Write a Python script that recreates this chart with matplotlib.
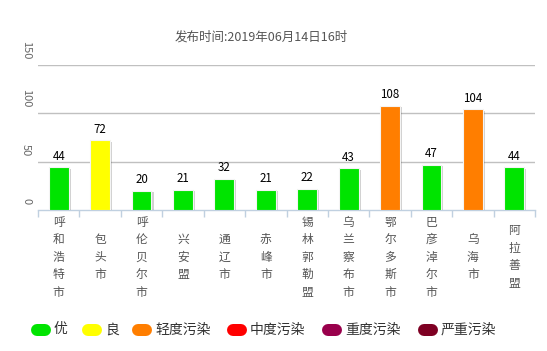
import matplotlib
matplotlib.use("Agg")
import matplotlib.pyplot as plt
import matplotlib.patheffects as pe
from matplotlib.lines import Line2D
import numpy as np

plt.rcParams['font.family'] = ['Noto Sans CJK SC', 'DejaVu Sans']

title = "发布时间:2019年06月14日16时"
cities = ["呼和浩特市", "包头市", "呼伦贝尔市", "兴安盟", "通辽市", "赤峰市",
          "锡林郭勒盟", "乌兰察布市", "鄂尔多斯市", "巴彦淖尔市", "乌海市", "阿拉善盟"]
aqi = [44, 72, 20, 21, 32, 21, 22, 43, 108, 47, 104, 44]
yticks = [0, 50, 100, 150]
levels = ["优", "良", "轻度污染", "中度污染", "重度污染", "严重污染"]
level_colors = ["#00E400", "#FFFF00", "#FF7E00", "#FF0000", "#99004C", "#7E0023"]
level_bounds = [50, 100, 150, 200, 300, 10000]


def color_for(v):
    for b, c in zip(level_bounds, level_colors):
        if v <= b:
            return c
    return level_colors[-1]


W, H = 547, 351
fig = plt.figure(figsize=(W / 100, H / 100), dpi=100)
left, right, top_px, bot_px = 38, 535, 65, 210
ax = fig.add_axes([left / W, 1 - bot_px / H, (right - left) / W, (bot_px - top_px) / H])

n = len(cities)
x = np.arange(n)
ax.set_xlim(-0.5, n - 0.5)
ax.set_ylim(0, 150)

for s in ["top", "right", "left"]:
    ax.spines[s].set_visible(False)
ax.spines["bottom"].set_color("#C0D0E0")
ax.spines["bottom"].set_linewidth(1)

for v in yticks[1:]:
    ax.axhline(v, color="#C0C0C0", lw=1, zorder=0)

colors = [color_for(v) for v in aqi]
bars = ax.bar(x, aqi, width=0.48, color=colors, edgecolor="#f4f4f4", linewidth=0.8, zorder=3)
for b in bars:
    b.set_path_effects([pe.SimplePatchShadow(offset=(1.5, -1.0), shadow_rgbFace="#000000", alpha=0.18),
                        pe.Normal()])

for xi, v in zip(x, aqi):
    ax.annotate(str(v), (xi, v), xytext=(0, 3.5), textcoords="offset points",
                ha="center", va="bottom", fontsize=8.3, color="#000000", zorder=4)

ax.set_yticks([])
ax.set_xticks([])
ax.set_xticks(np.arange(-0.5, n, 1.0), minor=True)
ax.tick_params(axis="x", which="minor", length=5, color="#C0D0E0", width=1, labelbottom=False)

for v in yticks:
    ax.annotate(str(v), xy=(0, v), xycoords=("axes fraction", "data"),
                xytext=(-5, 4), textcoords="offset points",
                rotation=-90, ha="right", va="bottom", fontsize=8, color="#666666")

for xi, name in zip(x, cities):
    ax.annotate("\n".join(name), xy=(xi, 0), xycoords=("data", "axes fraction"),
                xytext=(0, -34), textcoords="offset points",
                ha="center", va="center", fontsize=8.5, color="#555555", linespacing=1.45)

fig.text(261 / W, 1 - 37 / H, title, ha="center", va="center", fontsize=9, color="#555555")

# legend
pill_x = [31, 82, 132, 227, 322, 418]
ly = 329.5
for px, lab, c in zip(pill_x, levels, level_colors):
    ln = Line2D([(px + 6) / W, (px + 14) / W], [1 - ly / H, 1 - ly / H],
                transform=fig.transFigure, color=c, lw=12 * 0.72,
                solid_capstyle="round")
    fig.add_artist(ln)
    fig.text((px + 23) / W, 1 - ly / H, lab, ha="left", va="center", fontsize=10, color="#333333")

fig.savefig("out.png", dpi=100)
